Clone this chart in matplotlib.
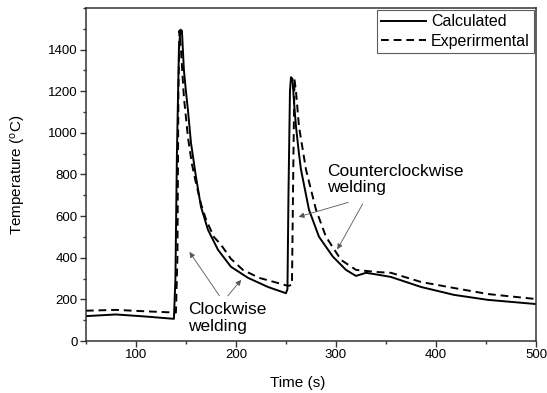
import matplotlib
matplotlib.use("Agg")
import matplotlib.pyplot as plt
from matplotlib.ticker import MultipleLocator

plt.rcParams["font.family"] = ["Liberation Sans", "DejaVu Sans"]
plt.rcParams["mathtext.default"] = "regular"

# Calculated (solid) thermal cycle
calc_t = [50, 80, 110, 138, 139.5, 141, 143, 144.5, 146, 148, 150, 152, 155, 160, 165,
          172, 182, 195, 212, 232, 250, 251.5, 252.5, 254, 255, 256.5, 258, 260, 263,
          265, 273, 283, 297, 310, 320, 330, 343, 355, 385, 418, 452, 500]
calc_T = [120, 128, 118, 107, 300, 900, 1400, 1495, 1490, 1300, 1200, 1110, 954, 790, 646,
          535, 439, 357, 304, 260, 230, 250, 700, 1200, 1267, 1260, 1150, 1031, 900,
          824, 631, 501, 405, 342, 313, 328, 318, 308, 260, 222, 198, 178]

# Experimental (dashed) thermal cycle
exp_t = [50, 80, 110, 140, 141.5, 142.5, 143.5, 145, 148, 152, 156, 160, 165, 170,
         178, 185, 195, 207, 223, 245, 252, 256, 257.5, 258.5, 260, 263, 270, 280,
         290, 305, 320, 340, 355, 385, 418, 452, 500]
exp_T = [146, 150, 143, 137, 400, 1200, 1490, 1400, 1170, 980, 850, 760, 660, 585,
         500, 463, 395, 342, 304, 275, 265, 270, 900, 1258, 1200, 1031, 824, 631,
         501, 390, 342, 332, 328, 284, 255, 226, 202]

fig = plt.figure(figsize=(5.47, 3.93), dpi=100)
ax = fig.add_axes([0.157, 0.132, 0.823, 0.848])

ax.plot(calc_t, calc_T, color="black", lw=1.4, label="Calculated")
ax.plot(exp_t, exp_T, color="black", lw=1.4, dashes=(4, 2.5), label="Experirmental")

ax.set_xlim(50, 500)
ax.set_ylim(0, 1600)
ax.xaxis.set_major_locator(MultipleLocator(100))
ax.xaxis.set_minor_locator(MultipleLocator(50))
ax.yaxis.set_minor_locator(MultipleLocator(100))
ax.set_yticks([0, 200, 400, 600, 800, 1000, 1200, 1400])
ax.tick_params(which="major", direction="out", length=4, width=1, color="#333",
               labelsize=9.5, pad=2)
ax.tick_params(which="minor", direction="out", length=2.5, width=1, color="#333")
for sp in ax.spines.values():
    sp.set_linewidth(1.1)
    sp.set_color("#333")

ax.set_xlabel("Time (s)", fontsize=11)
ax.xaxis.set_label_coords(0.47, -0.105)
ax.set_ylabel("Temperature ($^{o}$C)", fontsize=11, labelpad=14)

leg = ax.legend(loc="upper right", borderaxespad=0.15, fontsize=11.5, frameon=True,
                fancybox=False, edgecolor="#333", handlelength=2.8,
                handletextpad=0.3, borderpad=0.25, labelspacing=0.3)
leg.get_frame().set_linewidth(0.8)

arrow = dict(arrowstyle="-|>", color="#555", lw=0.6, mutation_scale=8)

ax.text(291, 776, "Counterclockwise\nwelding", fontsize=12.5, ha="left", va="center",
        linespacing=1.1)
ax.annotate("", xy=(260, 593), xytext=(315, 670), arrowprops=arrow)
ax.annotate("", xy=(300, 429), xytext=(328, 670), arrowprops=arrow)

ax.text(152, 111, "Clockwise\nwelding", fontsize=12.5, ha="left", va="center",
        linespacing=1.1)
ax.annotate("", xy=(152, 439), xytext=(185, 207), arrowprops=arrow)
ax.annotate("", xy=(207, 304), xytext=(190, 207), arrowprops=arrow)

fig.savefig("out.png", dpi=100)
